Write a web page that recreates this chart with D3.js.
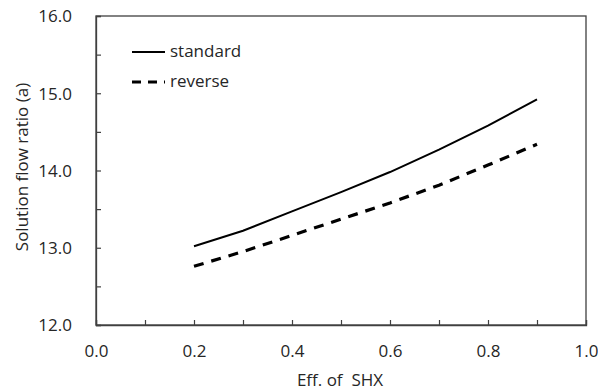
<!DOCTYPE html>
<html>
<head>
<meta charset="utf-8">
<script src="https://cdn.jsdelivr.net/npm/d3@7"></script>
<style>
  body { margin: 0; background: #fff; }
  text { font-family: "Open Sans", sans-serif; fill: #262626; }
</style>
</head>
<body>
<div id="plot"></div>
<script>
// chart data
const effSHX = [0.2, 0.3, 0.4, 0.5, 0.6, 0.7, 0.8, 0.9];
const standard = [13.02, 13.22, 13.47, 13.72, 13.98, 14.27, 14.58, 14.92];
const reverse = [12.76, 12.95, 13.16, 13.37, 13.58, 13.81, 14.07, 14.34];
const seriesNames = ["standard", "reverse"];
const xTicks = [0, 0.1, 0.2, 0.3, 0.4, 0.5, 0.6, 0.7, 0.8, 0.9, 1.0];
const yTicks = [12, 12.5, 13, 13.5, 14, 14.5, 15, 15.5, 16];

const W = 598, H = 391;
const margin = { top: 16, right: 12, bottom: 66, left: 96 };
const width = W - margin.left - margin.right;
const height = H - margin.top - margin.bottom;

const svg = d3.select("#plot").append("svg")
  .attr("width", W)
  .attr("height", H);

const g = svg.append("g")
  .attr("transform", `translate(${margin.left},${margin.top})`);

const x = d3.scaleLinear().domain([0, 1]).range([0, width]);
const y = d3.scaleLinear().domain([12, 16]).range([height, 0]);

// frame
g.append("rect")
  .attr("width", width).attr("height", height)
  .attr("fill", "none").attr("stroke", "#404040").attr("stroke-width", 1.3);

// axes with inward ticks
const xAxis = d3.axisBottom(x).tickValues(xTicks).tickSize(-5).tickPadding(20)
  .tickFormat(d => (Math.round(d * 10) % 2 === 0) ? d3.format(".1f")(d) : "");
const yAxis = d3.axisLeft(y).tickValues(yTicks).tickSize(-5).tickPadding(24)
  .tickFormat(d => Number.isInteger(d) ? d3.format(".1f")(d) : "");

const gx = g.append("g").attr("transform", `translate(0,${height})`).call(xAxis);
const gy = g.append("g").call(yAxis);
[gx, gy].forEach(a => {
  a.select(".domain").attr("stroke", "#404040").attr("stroke-width", 1.3);
  a.selectAll(".tick line").attr("stroke", "#404040").attr("stroke-width", 1.2);
  a.selectAll("text").style("font-size", "17px").attr("fill", "#262626");
});
gy.selectAll("text").attr("dy", "0.35em");

// axis titles
svg.append("text")
  .attr("x", margin.left + width / 2 - 1).attr("y", 386)
  .attr("text-anchor", "middle").style("font-size", "17px")
  .text("Eff. of\u00a0\u00a0SHX");

svg.append("text")
  .attr("transform", `translate(28,${margin.top + 151}) rotate(-90)`)
  .attr("text-anchor", "middle").style("font-size", "17px")
  .text("Solution flow ratio (a)");

// lines
const line = d3.line().x(d => x(d[0])).y(d => y(d[1]));
const styles = {
  standard: { w: 2, dash: null },
  reverse: { w: 3.2, dash: "10,8" }
};
const seriesData = {
  standard: effSHX.map((v, i) => [v, standard[i]]),
  reverse: effSHX.map((v, i) => [v, reverse[i]])
};

seriesNames.forEach(name => {
  g.append("path")
    .datum(seriesData[name])
    .attr("fill", "none")
    .attr("stroke", "#000")
    .attr("stroke-width", styles[name].w)
    .attr("stroke-dasharray", styles[name].dash)
    .attr("d", line);
});

// legend
const legend = svg.append("g").attr("transform", "translate(132,52)");
seriesNames.forEach((name, i) => {
  const row = legend.append("g").attr("transform", `translate(0,${i * 30})`);
  row.append("line")
    .attr("x1", 0).attr("x2", 33).attr("y1", 0).attr("y2", 0)
    .attr("stroke", "#000")
    .attr("stroke-width", styles[name].w)
    .attr("stroke-dasharray", name === "reverse" ? "9,7" : null);
  row.append("text")
    .attr("x", 38).attr("y", 0).attr("dy", "0.32em")
    .style("font-size", "17px")
    .text(name);
});
</script>
</body>
</html>
